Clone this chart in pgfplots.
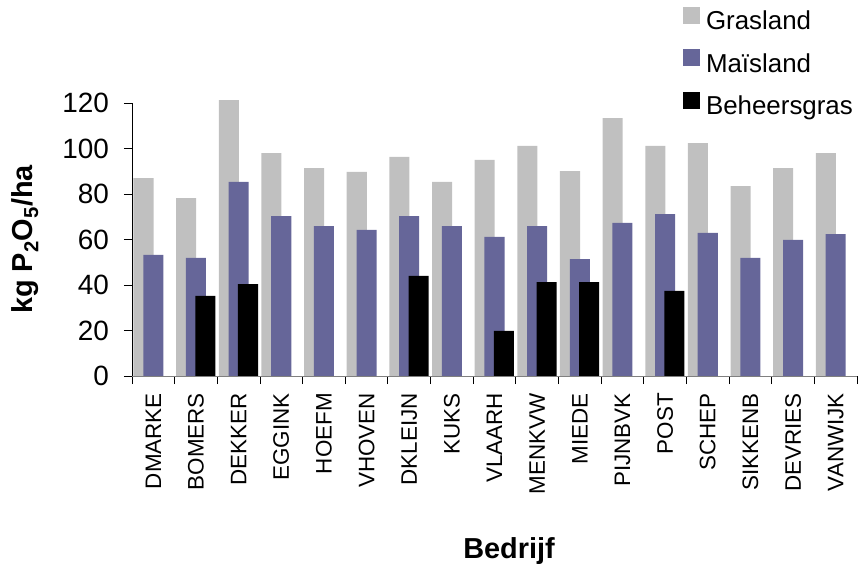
\documentclass[border=0pt]{standalone}
\usepackage{pgfplots}
\pgfplotsset{compat=1.18}
\usepackage{fontspec}
\setmainfont{Liberation Sans}
\definecolor{gras}{HTML}{C0C0C0}
\definecolor{mais}{HTML}{666699}
\begin{document}
\begin{tikzpicture}
\useasboundingbox (0,0) rectangle (861bp,566bp);
\begin{axis}[
  at={(132bp,190bp)}, anchor=south west,
  scale only axis, width=725bp, height=273bp,
  xmin=-0.5, xmax=16.5, ymin=0, ymax=120,
  clip=false,
  axis lines*=left,
  x axis line style={draw=gray, line width=0.8bp},
  y axis line style={draw=black, line width=0.8bp},
  ytick={0,20,...,120},
  xtick={0,...,16},
  xticklabels={DMARKE,BOMERS,DEKKER,EGGINK,HOEFM,VHOVEN,DKLEIJN,KUKS,VLAARH,MENKVW,MIEDE,PIJNBVK,POST,SCHEP,SIKKENB,DEVRIES,VANWIJK},
  minor xtick={-0.5,0.5,...,16.5},
  major x tick style={draw=none},
  tick align=outside,
  major tick length=8bp, minor tick length=8bp,
  tick style={black, line width=0.8bp},
  /pgf/number format/assume math mode=true,
  yticklabel style={font=\fontsize{28}{28}\selectfont, inner sep=0pt, xshift=-15bp},
  xticklabel style={font=\fontsize{22.5}{22.5}\selectfont, rotate=90, anchor=east, inner sep=0pt, xshift=-9bp},
  ylabel={kg P\textsubscript{2}O\textsubscript{5}/ha},
  ylabel style={font=\fontsize{29}{29}\selectfont\bfseries, at={(axis description cs:-0.128,0.5)}, anchor=south, inner sep=0pt},
  xlabel={Bedrijf},
  xlabel style={font=\fontsize{29}{29}\selectfont\bfseries, at={(axis description cs:0.52,-0.67)}, anchor=base, inner sep=0pt},
  legend style={draw=none, fill=none, inner sep=0pt, outer sep=0pt,
    at={(axis description cs:0.76,1.352)}, anchor=north west,
    font=\fontsize{26}{26}\selectfont, row sep=13.5bp, column sep=6bp,
    nodes={inner sep=0pt, text height=20bp, text depth=6bp}},
  legend cell align=left,
  mybar/.style={ybar, bar width=0.47, draw=none,
    legend image code/.code={\fill[##1] (0bp,-1bp) rectangle (17bp,16bp);}},
]
\addplot[mybar, bar shift=-0.23, fill=gras] coordinates {
(0,87.0) (1,78.2) (2,121.3) (3,98.0) (4,91.4) (5,89.7) (6,96.3) (7,85.3) (8,95.0)
(9,101.1) (10,90.1) (11,113.4) (12,101.1) (13,102.4) (14,83.5) (15,91.4) (16,98.0)};
\addlegendentry{Grasland}
\addplot[mybar, bar shift=0, fill=mais] coordinates {
(0,53.2) (1,51.9) (2,85.3) (3,70.3) (4,65.9) (5,64.2) (6,70.3) (7,65.9) (8,61.1)
(9,65.9) (10,51.4) (11,67.3) (12,71.2) (13,62.9) (14,51.9) (15,59.8) (16,62.4)};
\addlegendentry{Maïsland}
\addplot[mybar, bar shift=0.22, fill=black] coordinates {
(1,35.2) (2,40.4) (6,44.0) (8,19.8) (9,41.3) (10,41.3) (12,37.4)};
\addlegendentry{Beheersgras}
\end{axis}
\end{tikzpicture}
\end{document}
